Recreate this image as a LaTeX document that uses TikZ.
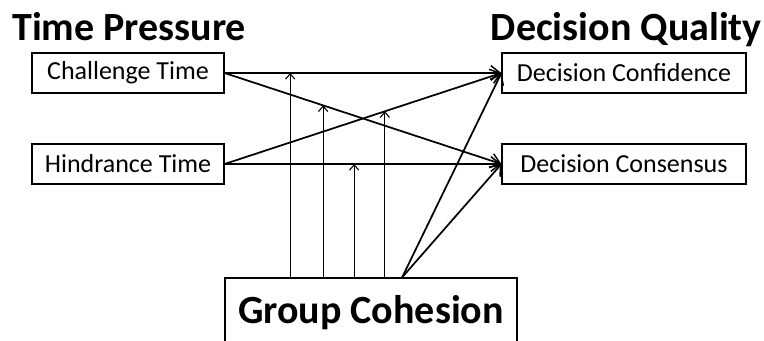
\documentclass[tikz,border=0pt]{standalone}
\usepackage{fontspec}
\setmainfont{Carlito}
\usepackage{tikz}
\usetikzlibrary{positioning,arrows.meta,calc}

\begin{document}
\begin{tikzpicture}[x=0.75pt,y=-0.75pt,
  box/.style={rectangle, draw=black, line width=0.9pt, minimum height=30pt, font=\fontsize{19.5}{21}\selectfont, inner sep=0pt},
  head/.style={font=\fontsize{30}{33}\selectfont\bfseries, inner sep=0pt},
  main/.style={-{Straight Barb[length=7pt,width=11pt,line width=1.1pt]}, line width=1.3pt},
  mod/.style={-{Straight Barb[length=4pt,width=7pt]}, line width=0.8pt}]
  \useasboundingbox (0,0) rectangle (764,340);
  % predictors and outcomes
  \node[box, minimum width=144pt] (ct) at (128,73) {Challenge Time};
  \node[box, minimum width=144pt] (ht) at (128,164) {Hindrance Time};
  \node[box, minimum width=183pt] (dconf) at (624,73) {Decision Confidence};
  \node[box, minimum width=183pt] (dcons) at (624,164) {Decision Consensus};
  \node[box, line width=1.6pt, minimum width=219pt, minimum height=52pt,
        font=\fontsize{30}{33}\selectfont\bfseries] (gc) at (371,313) {Group Cohesion};
  \node[head, anchor=base west] (tp) at (12,40) {Time Pressure};
  \node[head, anchor=base east] (dq) at (762,40) {Decision Quality};
  \draw[main] (ct.east) -- (dconf.west);
  \draw[main] (ct.east) -- (dcons.west);
  \draw[main] (ht.east) -- (dconf.west);
  \draw[main] (ht.east) -- (dcons.west);
  % moderation
  \coordinate (m1) at ($(ct.east)!0.237!(dconf.west)$);
  \coordinate (m2) at ($(ct.east)!0.356!(dcons.west)$);
  \coordinate (m3) at ($(ht.east)!0.468!(dcons.west)$);
  \coordinate (m4) at ($(ht.east)!0.579!(dconf.west)$);
  \foreach \m in {m1,m2,m3,m4}
    \draw[mod] (gc.north -| \m) -- (\m);
  \coordinate (gs) at ($(gc.north west)!0.606!(gc.north east)$);
  \draw[main] (gs) -- (dconf.west);
  \draw[main] (gs) -- (dcons.west);
\end{tikzpicture}
\end{document}
